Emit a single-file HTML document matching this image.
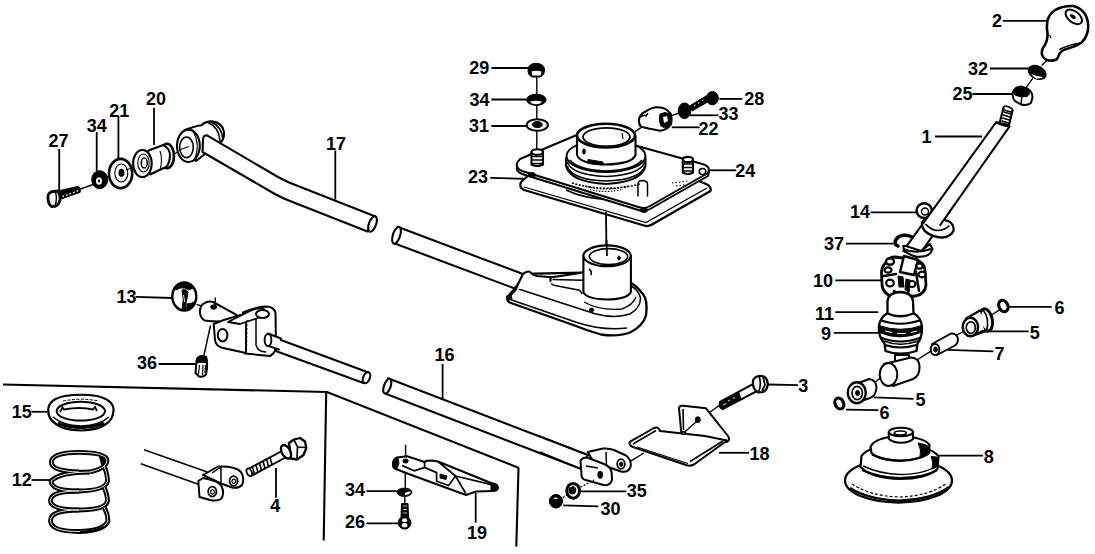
<!DOCTYPE html>
<html><head><meta charset="utf-8">
<style>
html,body{margin:0;padding:0;background:#fff;width:1095px;height:554px;overflow:hidden}
svg{display:block}
text{font-family:"Liberation Sans",sans-serif;font-weight:bold;font-size:18px;fill:#000;text-anchor:middle}
.l{stroke:#000;stroke-width:1.8;fill:none}
.o{stroke:#000;stroke-width:2.1;fill:#fff;stroke-linejoin:round}
.n{stroke:#000;stroke-width:2.1;fill:none;stroke-linejoin:round;stroke-linecap:round}
.t{stroke:#000;stroke-width:1.1;fill:none}
.k{fill:#000;stroke:#000;stroke-width:1}
</style></head><body>
<svg width="1095" height="554" viewBox="0 0 1095 554">
<!-- FRAME -->
<g id="frame">
<path class="l" style="stroke-width:2.1" d="M3,384.5 L327,392 L519,468"/>
<path class="l" style="stroke-width:2.1" d="M326.2,392 L323.7,540.5"/>
<path class="l" style="stroke-width:2.1" d="M518.5,468 L516.3,546.5"/>
</g>

<!-- LABELS -->
<g id="labels">
<text x="997" y="27">2</text>
<text x="978" y="74.5">32</text>
<text x="962.4" y="100">25</text>
<text x="926.5" y="142.5">1</text>
<text x="860" y="218.3">14</text>
<text x="834" y="249.6">37</text>
<text x="823" y="286.5">10</text>
<text x="824.6" y="320">11</text>
<text x="826" y="340">9</text>
<text x="1059.4" y="314.3">6</text>
<text x="1034.8" y="338.9">5</text>
<text x="999.5" y="360.4">7</text>
<text x="920.6" y="405.8">5</text>
<text x="884.4" y="418.7">6</text>
<text x="988.8" y="462.7">8</text>
<text x="803.2" y="392.3">3</text>
<text x="759.4" y="459.9">18</text>
<text x="636.8" y="497.3">35</text>
<text x="610.6" y="514.9">30</text>
<text x="477" y="538.5">19</text>
<text x="354.9" y="496.2">34</text>
<text x="354.9" y="528">26</text>
<text x="275.3" y="511.5">4</text>
<text x="21.7" y="486.1">12</text>
<text x="21.7" y="417.8">15</text>
<text x="444.4" y="361.3">16</text>
<text x="147" y="369.3">36</text>
<text x="126.6" y="302.8">13</text>
<text x="336" y="150">17</text>
<text x="478.1" y="182.9">23</text>
<text x="745.3" y="176.9">24</text>
<text x="708.5" y="135.2">22</text>
<text x="728.4" y="119.8">33</text>
<text x="754.2" y="105.3">28</text>
<text x="479.2" y="74.4">29</text>
<text x="479.5" y="105.8">34</text>
<text x="479" y="132">31</text>
<text x="58.6" y="146.9">27</text>
<text x="96.7" y="131.8">34</text>
<text x="119.3" y="116.5">21</text>
<text x="156" y="105">20</text>
</g>

<!-- LEADERS -->
<g id="leaders" class="l">
<path d="M1002.8,20.8 H1047.6"/>
<path d="M990,68.5 H1029"/>
<path d="M972.5,94 H1014"/>
<path d="M935,136.5 H982"/>
<path d="M870.6,212.3 H916.6"/>
<path d="M846,243.6 H893.6"/>
<path d="M835.3,280.4 H881.3"/>
<path d="M835.3,312.2 H878.3"/>
<path d="M833.8,332.9 H878.3"/>
<path d="M1008.5,306.8 H1051.7"/>
<path d="M981,331.3 H1028.7"/>
<path d="M947.3,349.8 L993.4,351.3"/>
<path d="M873.7,397.3 L913.6,398.9"/>
<path d="M846,409.6 L878.3,410.2"/>
<path d="M939.2,455.7 H982.9"/>
<path d="M768,384.5 L798,385.2"/>
<path d="M719,452.8 H749"/>
<path d="M580.8,491.3 H626.3"/>
<path d="M563.3,505.4 L598.3,506.4"/>
<path d="M475.7,493 V522.7"/>
<path d="M366.5,491.2 H399.7"/>
<path d="M366.5,523.4 H399.7"/>
<path d="M276,467.9 V497.7"/>
<path d="M31.5,480 H49"/>
<path d="M31.5,411.8 H49"/>
<path d="M442.6,364 V399.4"/>
<path d="M158.6,364 H195.6"/>
<path d="M135.6,296.8 L172.6,298"/>
<path d="M335.3,150.5 V199.6"/>
<path d="M490.3,177.9 L530.8,179"/>
<path d="M707.5,170.3 H736.3"/>
<path d="M671.8,127.3 H699.6"/>
<path d="M689.6,115.3 H718.4"/>
<path d="M719.4,98.9 H742.3"/>
<path d="M491.4,68 H528"/>
<path d="M491.4,99.5 H526"/>
<path d="M491.4,126 H526"/>
<path d="M59.2,149 V191.4"/>
<path d="M96.7,132 V171"/>
<path d="M118.4,116 V158"/>
<path d="M154,107.7 V145"/>
</g>

<!-- PARTS -->
<g id="left">
<!-- bolt 27 -->
<path class="t" style="stroke-width:1.6" d="M79.8,189.3 L93,184.5"/>
<path class="k" d="M58.5,190.8 L78.5,186.3 Q81,188.5 80.2,192.3 L59.5,199.5 Z"/>
<path d="M62.5,196.5 l1.5,-0.6 M66,195.3 l1.5,-0.6 M69.5,194 l1.5,-0.6 M73,192.8 l1.5,-0.6 M76.5,191.3 l1.5,-0.6" stroke="#fff" stroke-width="1.4"/>
<path class="o" style="stroke-width:2.8" d="M48,196 Q49,192 53,191.5 L58,191 Q60.5,195 60,200 Q59,205 55,206.3 L51.5,206.5 Q47.5,203.5 48,196 Z"/>
<path class="t" style="stroke-width:1.4" d="M55.5,192 Q57.5,199 55,206"/>
<!-- washer 34 -->
<ellipse class="k" cx="99.7" cy="179.7" rx="8" ry="9"/>
<ellipse cx="99" cy="181" rx="3" ry="3.8" fill="#fff"/>
<ellipse cx="99" cy="181" rx="1.2" ry="1.6" fill="#000"/>
<path class="t" d="M107,177 L110,176"/>
<!-- washer 21 -->
<ellipse class="o" style="stroke-width:2.6" cx="120.6" cy="173.5" rx="11.6" ry="14.6"/>
<ellipse class="t" cx="121.3" cy="173" rx="6.5" ry="9"/>
<ellipse class="k" cx="121.5" cy="172.8" rx="2.6" ry="3.8"/>
<path class="t" d="M126,170 L133,167.5"/>
<!-- bushing 20 -->
<ellipse class="o" style="stroke-width:2.6" cx="167" cy="156" rx="7" ry="12.3"/>
<path class="o" d="M148,150.8 L163.2,145.1 Q170,148 170,156 Q169.5,164 166,167 L150,174.5 Z"/>
<path class="t" d="M160,151 Q163,160 160,170"/>
<ellipse class="o" cx="142.4" cy="163.5" rx="9.3" ry="13.5"/>
<ellipse class="t" cx="143.5" cy="163" rx="5.7" ry="9"/>
<ellipse class="t" style="stroke-width:1.5" cx="144.2" cy="163" rx="3" ry="5"/>
<path class="t" d="M172.7,154.6 L186,148"/>
<!-- arm 17 eye -->
<path class="o" d="M185,130 Q195,126 201.4,125.2 Q205,121.5 212,121.4 Q223,123 224,132 Q224.5,140 220,142.5 L196,161 Z"/>
<path class="t" style="stroke-width:1.6" d="M208,122.5 Q219,127 220,141"/>
<path class="t" style="stroke-width:1.6" d="M211,122 Q222,126 223,140"/>
<path class="o" d="M203,140 Q203,135 207,135.4 L278,177 Q287,182 296,185.3 L375.5,216.5 L367.5,231.5 L290,201 Q282,198 274,193.5 L202.5,152 Z"/>
<ellipse class="o" cx="372.5" cy="224" rx="3.6" ry="8.2" transform="rotate(20 372.5 224)"/>
<ellipse class="o" cx="188.4" cy="145.8" rx="11.4" ry="16.2"/>
<path class="t" d="M193,131 Q201,145 194,161"/>
<ellipse class="t" style="stroke-width:1.6" cx="186.5" cy="147.3" rx="6.8" ry="10.3"/>
<path class="t" d="M179,150 L189,146.5"/>
</g>

<g id="plate">
<!-- stack 29/34/31 line -->
<path class="t" style="stroke-width:1.4" d="M536.8,76 V150"/>
<!-- nut 29 -->
<path class="k" d="M528,69 Q529,63.5 536,63.3 Q543.5,63.5 544.5,69 Q545,75 540,77 L532,77 Q527.5,75 528,69 Z"/>
<path d="M531.5,71.5 Q536,70 541.5,71.5 L540.5,75.5 L532.5,75.5 Z" fill="#fff"/>
<!-- washer 34 -->
<ellipse class="k" cx="536.3" cy="99.8" rx="9.8" ry="5.6"/>
<path d="M530,101.5 Q536,100 542,101.5 Q541,104 536,104.2 Q531,104 530,101.5 Z" fill="#fff"/>
<!-- washer 31 -->
<ellipse class="o" style="stroke-width:2" cx="537.3" cy="125" rx="10.6" ry="5.8"/>
<ellipse class="k" cx="537.3" cy="124.6" rx="5" ry="3"/>
<!-- lower plate 23 -->
<path class="o" style="stroke-width:2.3" d="M585,137 L705,183.5 Q712,186.5 710.5,191 L652,224.5 Q648,227 644,225.5 L524,190 Q518.5,187.5 521,182 L530,174 Z"/>
<path class="t" style="stroke-width:1.3" d="M524,187 L646,222.5 L707,188"/>
<path class="t" style="stroke-width:1.8" d="M566,190 Q585,199 610,199.5 Q625,199 632,196"/>
<!-- upper plate 24 thickness -->
<path class="o" style="stroke-width:2" d="M520,162 L585,134 L704,167.5 Q711,170 708,176 L650,209 Q645,212 640,210.5 L522,174 Q515.5,171 517,166 Z"/>
<path class="o" style="stroke-width:2" d="M520,159 L585,131.5 L704,164.5 Q711,167 708,173 L650,206 Q645,209 640,207.5 L522,171 Q515.5,168 517,163 Z"/>
<ellipse class="k" cx="532" cy="175" rx="3.5" ry="2.5"/>
<ellipse class="k" cx="644" cy="210" rx="3.5" ry="2.5"/>
<!-- housing flange -->
<path class="t" style="stroke-dasharray:2 1.5;stroke-width:1.6" d="M572,183 Q605,193 640,184"/>
<path class="o" style="stroke-width:2" d="M566,158 L566,166 Q570,182 606,184 Q642,182 645.5,166 L645.5,158 Z"/>
<path class="t" style="stroke-width:1.7" d="M567,166 Q572,180 606,181 Q640,180 645,166"/>
<path class="t" style="stroke-width:1.7" d="M567,162 Q572,175 606,176.5 Q640,175 645,162"/>
<ellipse class="o" style="stroke-width:2" cx="606" cy="156" rx="39.5" ry="16"/>
<path class="t" style="stroke-width:1.5" d="M570,160 Q578,170 606,171 Q634,170 642,160"/>
<!-- housing cylinder -->
<path class="o" d="M577,136 L577,155 Q580,164 606,164.5 Q632,164 635.5,155 L635.5,136 Z"/>
<path class="k" d="M588,159.5 L603,162 L603,165 L588,163.5 Z"/>
<ellipse cx="584" cy="151.5" rx="1.8" ry="3" fill="#000"/>
<ellipse class="o" style="stroke-width:2.6" cx="606" cy="135.6" rx="29" ry="11.8"/>
<ellipse class="t" style="stroke-width:1.8" cx="606.5" cy="137" rx="23.5" ry="9.2"/>
<path class="t" d="M622,133 L623,139"/>
<path class="t" style="stroke-width:1.1;stroke-dasharray:1.5 1.5" d="M585,186 Q606,192 628,186 M590,189.5 Q606,193.5 622,189.5"/>
<path class="t" style="stroke-width:1.1;stroke-dasharray:1.5 2" d="M672,183 L688,181 M676,186 L686,184.5"/>
<ellipse class="o" style="stroke-width:1.6" cx="702.5" cy="171.5" rx="3.3" ry="3"/>
<!-- tab -->
<path class="n" style="stroke-width:1.5" d="M638,196 V184 Q638,180.5 643,180.5 Q647.5,181 647.5,184 V196"/>
<!-- studs -->
<path class="o" d="M531.5,152 V164.5 Q537,167.5 543,164.5 V152 Z"/>
<ellipse class="o" cx="537.3" cy="152" rx="5.7" ry="2.8"/>
<path class="n" style="stroke-width:1.6" d="M532,156.5 h10 M532,160 h10 M532,163.5 h10"/>
<path class="o" d="M682.8,159.5 V172.5 Q688,175.5 693,172.5 V159.5 Z"/>
<ellipse class="o" cx="687.9" cy="159.5" rx="5" ry="2.6"/>
<path class="n" style="stroke-width:1.7" d="M683.5,164 h9 M683.5,167.5 h9 M683.5,171 h9"/>
<!-- leader down -->
<path class="l" d="M606,212 L606.5,255"/>
<!-- clip 22 -->
<path class="t" style="stroke-width:1.4" d="M641,127.7 L635,131.7"/>
<path class="o" d="M638.9,120 Q640,114 645,111.8 Q652,107 658,107.3 Q666,107.5 670.7,113.8 Q672.5,120 670.5,125 Q667,130 660,130.7 L649.8,128.7 L641,126.7 Q638.5,124 638.9,120 Z"/>
<path class="k" d="M660,114 Q665,111 670,114 Q672,121 669,127 Q664,129 661,126 Q658,120 660,114 Z"/>
<path d="M663,117 L667,116 L668,121 L664,123 Z" fill="#fff"/>
<path class="t" style="stroke-width:1.5" d="M641,117 Q644,114 646,116 L648,113"/>
<path class="t" style="stroke-width:1.4" d="M671,115.8 L679,113"/>
<!-- washer 33 -->
<ellipse class="k" cx="684.5" cy="110.8" rx="6.3" ry="7.8"/>
<!-- bolt 28 -->
<path class="k" d="M689.5,106 L706,96 L708.5,101.5 L692,111 Z"/>
<path d="M694,106 l1.5,-1 M698,103.5 l1.5,-1 M702,101 l1.5,-1" stroke="#fff" stroke-width="1"/>
<ellipse class="k" cx="712.3" cy="98.2" rx="6" ry="6.6"/>
</g>

<g id="base">
<!-- rod 17 second segment -->
<path class="o" d="M397.5,226.8 L523.5,274.3 L516,289 L395.5,243.8 Z"/>
<ellipse class="o" cx="396.5" cy="235.3" rx="3.6" ry="8.8" transform="rotate(18 396.5 235.3)"/>
<!-- base plate -->
<path class="o" style="stroke-width:2.3" d="M507.3,297 Q506.5,301.5 511,303 L576,326 Q590,331.5 601,334.5 Q618,337 630,332.5 Q643,326 646,315.5 Q647.5,304 645,297.5 Q641,290 632,283.5 L583,272.6 L523.2,273.8 Q519,285 507.3,297 Z"/>
<path class="t" style="stroke-width:1.6" d="M511,299.8 L577,322.5 Q603,331 627,328"/>
<path class="t" style="stroke-width:1.5" d="M518.5,289 L595,313.7 Q615,319 630,314 Q640.5,308 640.5,298 Q639,291 632,286.5"/>
<path class="t" style="stroke-width:1.4" d="M584,302 Q600,311 622,309 Q633,305 636,297"/>
<!-- socket -->
<path fill="#fff" d="M523.2,273.8 Q528,270.5 530.2,272 Q532,275 537,276 L551.3,277.3 L560.7,276.1 L583,272.6 L583,296 Q570,292 552,284 L518.5,289 L515.5,290.2 Q518,282 523.2,273.8 Z"/>
<path class="n" style="stroke-width:2" d="M523.2,273.8 Q528,270.5 530.2,272 Q532,275 537,276 L551.3,277.3 L560.7,276.1 L583,272.6"/>
<path class="n" style="stroke-width:2.2" d="M550.5,277.5 L550.5,281"/>
<path class="t" style="stroke-width:1.9" d="M523.2,273.8 Q519,282 515.5,290.2 L510.3,295.5"/>
<path class="t" style="stroke-width:1.5" d="M552.5,279.6 L583,280.2 M551.3,283.2 Q552,285 555,285.5 L579.5,290.2 Q581.5,292 582,294"/>
<ellipse class="k" cx="591.5" cy="310" rx="2.2" ry="1.8"/>
<path class="k" d="M506.5,296 L511,294.5 L512,299 L508,300.5 Z"/>
<!-- base cylinder -->
<path class="o" d="M583.4,256 L583.4,292 Q586,299 607,299.5 Q628,299 630.9,292 L630.9,256 Z"/>
<ellipse class="o" style="stroke-width:2.2" cx="607.1" cy="255.8" rx="23.7" ry="10.4"/>
<ellipse class="t" style="stroke-width:1.6" cx="608.5" cy="256.6" rx="19.2" ry="8"/>
<path class="t" style="stroke-width:1.6" d="M589,269 Q592,271 591,275"/>
<ellipse class="k" cx="619" cy="258" rx="1.3" ry="2"/>
<path class="l" d="M606.5,240 L607,256"/>
</g>

<g id="lever">
<!-- dash line knob to nut -->
<path class="t" style="stroke-width:1.4" d="M1047.6,59.5 L1041.6,65.5 M1032.7,78.4 L1025.7,88.3"/>
<!-- knob 2 -->
<path class="o" style="stroke-width:2.6" d="M1047.6,19.8 Q1050,13 1056,9.5 Q1064,5.5 1073.4,6 Q1081,8 1085,14 Q1089,21 1088,30 Q1086.5,38 1081.3,42.7 Q1076,46.5 1068,48.5 Q1062,50 1059.5,53.6 Q1058,58 1056.5,59.5 Q1052,61.5 1047,60 Q1043,58.5 1041.8,54 Q1041.5,49 1044.6,45.7 Q1047.5,41 1047.6,35 Q1046,27 1047.6,19.8 Z"/>
<ellipse class="o" style="stroke-width:2" cx="1073.8" cy="16.9" rx="9.5" ry="5.5" transform="rotate(38 1073.8 16.9)"/>
<path class="k" d="M1070,15 Q1073,14 1075,16.5 Q1076,19 1074,18.8 Q1071,18 1070,15 Z"/>
<path class="t" style="stroke-width:1.6" d="M1059.5,49.5 Q1066,45.5 1081,43"/>
<path class="t" d="M1049.5,35 L1051,38"/>
<!-- washer 32 -->
<ellipse class="k" cx="1037.2" cy="72.4" rx="9.5" ry="6.4" transform="rotate(25 1037.2 72.4)"/>
<path d="M1031,74 Q1037,76.5 1043,77 Q1040,79.5 1035,78 Z" fill="#fff"/>
<!-- nut 25 -->
<path class="o" style="stroke-width:2" d="M1013,92 Q1015,87 1021,86.5 L1028,89 Q1032.5,92 1032.5,97 L1031,103 Q1027,106 1021,104.5 L1015,101 Q1011.5,97 1013,92 Z"/>
<path class="k" d="M1013.5,92 Q1015.5,87 1022,87.5 L1028.5,90.5 Q1031,94 1027,96.5 Q1021,97.5 1016,95.5 Q1013,94.5 1013.5,92 Z"/>
<path class="t" style="stroke-width:1.5" d="M1022,95 L1021,104"/>
<!-- ring 14 -->
<ellipse class="o" style="stroke-width:2.4" cx="924.2" cy="210.6" rx="7.6" ry="7.4"/>
<ellipse class="t" style="stroke-width:1.5" cx="925" cy="211.5" rx="3.5" ry="3.5"/>
<!-- shaft 1 -->
<path class="o" d="M996.3,122 L1009.5,126.5 L917.4,257.5 L903.2,250.9 Z"/>
<path class="o" d="M1003.5,108 L1012.5,110.5 L1009,125 L999.5,123 Z"/>
<path class="n" style="stroke-width:1.5" d="M1004,112 l7.5,2.2 M1003.3,115 l7.5,2.2 M1002.6,118 l7.5,2.2 M1001.9,121 l7.5,2.2"/>
<ellipse class="o" style="stroke-width:1.7" cx="1008" cy="109" rx="4.8" ry="2.2" transform="rotate(20 1008 109)"/>
<path class="n" style="stroke-width:1.6" d="M996.5,122.5 Q1002,126 1009.5,126.5"/>
<!-- collar -->
<path class="o" style="stroke-width:2.3" d="M922,223 Q923,218 932.5,218.7 Q943,218.5 950,222 Q954.5,226 953.4,231 Q951,236.5 942,237.6 Q932,237 926,232 Q921.5,228 922,223 Z"/>
<path class="t" style="stroke-width:1.7" d="M925,223.4 Q931,230.5 938.2,230.5 Q945,230 949.5,225.5"/>
<path d="M935,207 L950.1,211 L940.2,225.5 L923.4,223.5 Z" fill="#fff"/>
<path class="n" style="stroke-width:2.1" d="M935,207 L923.4,223 M950.1,211 L940.2,225"/>
<!-- clip 37 -->
<path class="n" style="stroke-width:3.5" d="M912,237 Q905,234 899,236.5 Q894,240 895.5,244.5 L898,246"/>
<!-- ring below -->
<path class="o" style="stroke-width:2" d="M903.2,246 Q903,253 916,256.5 Q930,258 932.5,249 L930,244 L921,251 L906,246 Z"/>
<path class="t" style="stroke-width:2.2" d="M903.5,249 Q915,254.5 931,249"/>
<!-- yoke 10 -->
<path class="o" style="stroke-width:2.8" d="M887,262 Q889,257 895,257 L903,258 L916,260 Q924,262 925,270 L926,285 Q925,294 916,296 L893,297 Q883,294 882,285 L881.5,272 Q882,265 887,262 Z"/>
<path class="o" style="stroke-width:2.4" d="M904,256 L918,260 L914,275 L900,272 Z"/>
<ellipse class="o" style="stroke-width:2.4" cx="890" cy="261.5" rx="4" ry="3.2"/>
<ellipse class="o" style="stroke-width:2.2" cx="888" cy="270" rx="3.5" ry="2.6"/>
<ellipse class="o" style="stroke-width:2.2" cx="890" cy="283" rx="3.8" ry="3.4"/>
<ellipse class="o" style="stroke-width:2.2" cx="919.5" cy="266" rx="3.2" ry="2.6"/>
<ellipse class="o" style="stroke-width:2.2" cx="922" cy="274.5" rx="3.6" ry="2.8"/>
<ellipse class="o" style="stroke-width:2.2" cx="912" cy="284" rx="3.5" ry="3"/>
<path class="k" d="M898,276 L903,277 L904,287 L899,287 Z M906,279 L910,280 L909,291 L905,290 Z"/>
<path class="n" style="stroke-width:2.4" d="M884,276 L896,274 M916,272 L919,291 M894,291 L902,296 M909,290 L906,297"/>
<!-- ball 11 / boot 9 -->
<path class="o" style="stroke-width:2.3" d="M887.5,313 Q879.5,318 878.8,327 Q878.5,337 884.5,343.5 L885.5,351 Q900,356.5 916.5,351 L917.5,343.5 Q922.5,337 922,327 Q921.5,318 913.5,313 Z"/>
<path class="o" style="stroke-width:2.3" d="M887.5,301 Q888.5,292.5 900,292 Q912,292.5 913,301 L913.5,313.5 Q900,319 887.5,313.5 Z"/>
<path class="t" style="stroke-width:2" d="M880,320 Q900,327.5 921,320"/>
<path class="k" d="M879,325.5 Q900,333 922,325.5 L922,332 Q900,341.5 879.5,332.5 Z"/>
<path d="M885,331 L892,332.5 M897,333.5 L906,333.5 M911,332.5 L917,331" stroke="#fff" stroke-width="1.2"/>
<path class="t" style="stroke-width:2" d="M880.5,337.5 Q900,345.5 921,337.5"/>
<path class="t" style="stroke-width:1.4" d="M884,341 Q900,347.5 918,341"/>
<path class="t" style="stroke-width:2" d="M885,345 Q900,350 916.5,345"/>
<!-- T housing -->
<path class="o" style="stroke-width:1.9" d="M895,355 L895,362 L909,362 L909,355 Z"/>
<path class="o" style="stroke-width:2" d="M884,364 L911,357.5 Q919,358 919.5,366 Q920,376 913,379 L893,386 Z"/>
<ellipse class="o" style="stroke-width:2" cx="888.5" cy="374.5" rx="8.8" ry="11.6"/>
<path class="t" style="stroke-width:1.4" d="M917,360 L930.4,351.3 M881.3,377.4 L875.2,382 M955,336 L965.7,330.4 M990,316 L999.5,309.8"/>
<!-- pin 7 -->
<path class="o" style="stroke-width:1.9" d="M932,344 L951,333.5 Q957,333 958,339 Q958,344 954,346 L937,355 Z"/>
<ellipse class="o" style="stroke-width:2" cx="935" cy="349.5" rx="4.3" ry="5.6"/>
<ellipse class="k" cx="935.5" cy="349.5" rx="1.8" ry="2.5"/>
<!-- bushing 5 upper -->
<path class="o" style="stroke-width:2.1" d="M966,320 L980,311 L986,331 L972,336 Z"/>
<ellipse class="o" style="stroke-width:3" cx="986" cy="320" rx="6.3" ry="11.3" transform="rotate(-12 986 320)"/>
<path class="t" style="stroke-width:1.6" d="M983,310 Q990,318 986.5,331"/>
<path class="o" style="stroke:none" d="M967,319 L980,310.5 L984,330 L972,335.5 Z"/>
<path class="n" style="stroke-width:2.1" d="M966,318.5 L980,310.5 M972,336 L983,331"/>
<ellipse class="o" style="stroke-width:2.4" cx="970.4" cy="327" rx="7.7" ry="9.2"/>
<ellipse class="t" style="stroke-width:1.7" cx="970.8" cy="327.6" rx="4.6" ry="5.8"/>
<!-- washer 6 upper -->
<ellipse class="o" style="stroke-width:3.2" cx="1003.4" cy="306" rx="4.4" ry="5.9" transform="rotate(-25 1003.4 306)"/>
<!-- bushing 5 lower -->
<path class="o" style="stroke-width:2" d="M856,384 L869,379 Q876,380 876.5,387 Q876,396 870,398 L858,402 Z"/>
<ellipse class="o" style="stroke-width:2.4" cx="856.8" cy="392.7" rx="9" ry="10.5"/>
<ellipse class="t" style="stroke-width:1.6" cx="857.2" cy="393" rx="5.2" ry="6.6"/>
<ellipse class="k" cx="857.5" cy="393" rx="2" ry="2.6"/>
<!-- washer 6 lower -->
<ellipse class="o" style="stroke-width:3.2" cx="839.3" cy="403.5" rx="4.2" ry="5.6" transform="rotate(-25 839.3 403.5)"/>
<!-- boot 8 -->
<ellipse class="o" style="stroke-width:2.3" cx="898.5" cy="480.5" rx="53.5" ry="22"/>
<path class="t" style="stroke-width:2.2" d="M850,488 Q868,499.5 899,500.5 Q932,499.5 949,487"/>
<path class="t" style="stroke-width:1.2;stroke-dasharray:3 2" d="M852,484 Q870,496 899,497 Q930,496 947,483"/>
<path class="o" style="stroke-width:2.2" d="M860.5,467 L861.5,456 Q868,446 899,445 Q930,446 938.5,456 L937.5,469 Q926,479 900,479 Q872,478.5 860.5,467 Z"/>
<path class="t" style="stroke-width:2.2" d="M862,470 Q878,477.5 900,478 Q925,477.5 937,470"/>
<path class="t" style="stroke-width:1.4" d="M863,466 Q880,474 900,474.5 Q925,474 936.5,466"/>
<path class="o" style="stroke-width:2.2" d="M870.5,447 Q874,437.5 900,436 Q925,437.5 929.5,445 L929,453 Q920,460 900,460.5 Q878,460 871.5,453 Z"/>
<path class="t" style="stroke-width:2" d="M872,454.5 Q885,460.5 900,461 Q918,460.5 928.5,454"/>
<path class="k" d="M918,443 Q926,444 929.5,447 L929,453 Q925,456 920,457 Q922,450 918,443 Z"/>
<path class="k" d="M931,456.5 Q937,456.5 938.5,458 L938,466 Q935,468 932,469 Q934,462 931,456.5 Z"/>
<path class="o" style="stroke-width:2.1" d="M888.7,432 L889,439 Q893,442.7 901,442.7 Q909,442.7 913,439 L913,432 Z"/>
<ellipse class="o" style="stroke-width:2.1" cx="900.9" cy="432" rx="12" ry="4.2"/>
<ellipse class="t" style="stroke-width:1.7" cx="900.3" cy="433" rx="6" ry="2"/>
</g>

<g id="joint">
<!-- rod 16 first segment -->
<path class="o" d="M262,333 L368.5,372.5 L363.5,383 L262,346 Z"/>
<ellipse class="o" cx="366.5" cy="377.7" rx="3.3" ry="5.8" transform="rotate(22 366.5 377.7)"/>
<!-- clip 13 -->
<path class="t" style="stroke-width:1.4" d="M196.7,304.4 L201.5,306"/>
<ellipse class="o" style="stroke-width:2.4" cx="184.3" cy="296.5" rx="12" ry="14"/>
<path class="k" d="M174,287.5 Q177,283.5 183,283 Q190,284 193,288 L189,290 Q185,287 180,288 L176,290 Z"/>
<path class="k" d="M182,290 Q185.5,288.5 188,292 L186.5,301 Q185,306 186.5,309.5 Q184,310.5 182,309.5 Q184.5,300 182,290 Z"/>
<path d="M183.5,295 L184.8,302" stroke="#fff" stroke-width="0.9"/>
<path class="k" d="M187,304 Q192,303.5 195,301.5 Q194.5,306.5 190.5,309.5 L187,310 Z"/>
<!-- rod-end block -->
<path class="t" style="stroke-width:1.4" d="M210.5,325.5 L203.8,356"/>
<path class="o" style="stroke-width:2" d="M200,311 Q200,305 205.5,302.7 Q209,300.5 213,302 L236.5,314.9 L232,322 Q220,322 204.5,320.5 Q199.5,317 200,311 Z"/>
<ellipse class="k" cx="213.7" cy="307" rx="3" ry="2.2"/>
<path class="t" style="stroke-width:1.4" d="M215.3,297.5 L215.3,305"/>
<!-- pin 36 -->
<path class="o" style="stroke-width:2" d="M196.5,361 Q197,356.5 202,356 L206,357 Q207.5,360 207,368 L206,374.5 Q203,377.5 199,376.5 L195.5,373 Z"/>
<path class="k" d="M196.8,361 Q197,356.5 202,356 L206,357 Q207.3,359 207,363 Q202,361.5 196.8,363 Z"/>
<path d="M199.5,365 L198.5,374 M203,365 L202.5,375 M205.5,365 L205,373" stroke="#000" stroke-width="1.2" fill="none"/>
<!-- U-joint -->
<path class="o" style="stroke-width:2" d="M243,312.5 Q255,307 266,306.5 Q274,306.5 275.5,313 L276,345 Q276,353 270,356 L245,353.5 Z"/>
<path class="o" style="stroke-width:2" d="M213.7,324 Q224,319.5 233,317.3 L246,313.5 L246,353 L223,348 Q215.5,346 215,340 Z"/>
<ellipse class="o" style="stroke-width:2" cx="222.6" cy="335.2" rx="4.8" ry="6.3"/>
<path class="o" style="stroke-width:1.8" d="M228,322 L250,311 Q258,307 264,309 L258,318 L240,324 Z"/>
<ellipse class="o" style="stroke-width:2" cx="262.5" cy="314" rx="6.5" ry="4"/>
<path class="t" style="stroke-width:1.5" d="M256,318 L256,345 Q258,352 266,352"/>
<path class="t" style="stroke-width:1.2;stroke-dasharray:2 2" d="M247,320 L246.5,350"/>
<path class="o" style="stroke:none" d="M268,334 L280,338 L279,349 L268,346 Z"/>
<path class="n" style="stroke-width:1.9" d="M268,333.5 L281,338.5 M268,345.8 L279,349.5"/>
<ellipse class="o" style="stroke-width:1.9" cx="268" cy="340" rx="3.4" ry="6"/>
</g>

<g id="box">
<!-- ring 15 -->
<path class="o" style="stroke-width:2.2" d="M48.2,410 Q48.5,399 65,396 Q81,393.5 97,396 Q113.5,400 113.6,410 Q113,420 106,424 Q98,430 81,430.5 Q64,430 56,424 Q48,419 48.2,410 Z"/>
<path class="t" style="stroke-width:3" d="M58,423 Q81,432 104,423"/>
<path class="t" style="stroke-width:1.5" d="M53,417 Q62,425 81,426 Q100,425 109,417"/>
<ellipse class="o" style="stroke-width:2" cx="80.8" cy="411.2" rx="24.2" ry="9.4"/>
<path class="t" style="stroke-width:1.8" d="M60,412 L62.5,407.5 L64,409.5 Q80,406.5 93,409.5 L95,407 L97,411"/>
<path class="t" style="stroke-width:1;stroke-dasharray:3 1.5" d="M63,401 Q81,397.5 99,401"/>
<!-- spring 12 -->
<g fill="none" stroke="#000" stroke-width="4.8">
<path d="M79,472 Q51,471 51.3,462 Q52,452.5 79,452.3 Q106,452.5 107,460 Q107.5,468 90,472"/>
<path d="M90,472 Q60,472 51,481 Q51,491 79,491 Q106,490.5 107.5,481 Q107.5,474 104,466 L101,455"/>
<path d="M79,491 Q51,491 50.3,500.5 Q51,510 79,510 Q106,510 107.5,501 Q107.5,495 104,487"/>
<path d="M79,510 Q50,510 50.5,521 Q51,531.5 79,531.5 Q104,531 108,521 Q108,514 104,507"/>
</g>
<g fill="none" stroke="#fff" stroke-width="0.9">
<path d="M79,472 Q51,471 51.3,462 Q52,452.5 79,452.3 Q106,452.5 107,460 Q107.5,468 90,472"/>
<path d="M90,472 Q60,472 51,481 Q51,491 79,491 Q106,490.5 107.5,481 Q107.5,474 104,466"/>
<path d="M79,491 Q51,491 50.3,500.5 Q51,510 79,510 Q106,510 107.5,501 Q107.5,495 104,487"/>
<path d="M79,510 Q50,510 50.5,521 Q51,531.5 79,531.5 Q104,531 108,521 Q108,514 104,507"/>
</g>
<path class="t" style="stroke-width:2.2" d="M80,532 Q96,531 104,527"/>
<!-- rod 4 end -->
<path class="t" style="stroke-width:1.6" d="M144,449.7 L207.3,471.9 M140.8,463.7 L198.3,484.2"/>
<!-- clevis -->
<path class="o" style="stroke-width:2" d="M203,475 L218,466.5 Q236,466 241,472 Q245,479 242,485 Q239,488.5 232,487.5 L221,483.5 Z"/>
<ellipse class="o" style="stroke-width:1.8" cx="233.6" cy="481" rx="4" ry="4.8"/>
<ellipse class="t" cx="233.8" cy="481.3" rx="1.8" ry="2.2"/>
<path class="t" style="stroke-width:1.5" d="M212,473 L221,467 L221,483"/>
<path class="o" style="stroke-width:2" d="M198.3,481 L203,478 Q218,480.5 221.5,486 Q225,494 221,499 Q217,501.5 210,500 L199.5,497 Z"/>
<ellipse class="o" style="stroke-width:1.8" cx="212.3" cy="491.6" rx="4.1" ry="5"/>
<ellipse class="t" cx="212.5" cy="491.9" rx="1.8" ry="2.2"/>
<!-- bolt 4 -->
<path class="o" style="stroke-width:1.9" d="M249,468.5 L282,451 L286.5,457 L251,476 Q247,474 249,468.5 Z"/>
<path class="n" style="stroke-width:1.6" d="M252.5,467 l2,7.5 M256,465 l2,7.5 M259.5,463 l2,7.5 M263,461 l2,7.5 M266.5,459 l2,7.5 M270,457.5 l2,7"/>
<ellipse class="o" style="stroke-width:1.8" cx="249.3" cy="472.3" rx="2.4" ry="4.1" transform="rotate(-25 249.3 472.3)"/>
<path class="o" style="stroke-width:2.3" d="M289,443 L294,439.5 L300,438 L305,441.5 L306.3,448 L303.5,455 L297,459.5 L291,458.5 Z"/>
<path class="t" style="stroke-width:1.7" d="M294,439.8 L297.5,447 L297,459 M297.5,447 L306,447.5"/>
<ellipse class="o" style="stroke-width:2.4" cx="286" cy="451.8" rx="4.2" ry="7.4" transform="rotate(-28 286 451.8)"/>
</g>

<g id="mid">
<!-- rod 16 second segment -->
<path class="o" d="M388,378.3 L588,455 L580,468.5 L386.4,393.9 Z"/>
<ellipse class="o" cx="387.3" cy="386.2" rx="3.3" ry="7.8" transform="rotate(20 387.3 386.2)"/>
<!-- bracket 19 -->
<path class="t" style="stroke-width:1.4" d="M405.6,444.7 V459 M405.3,472 V488 M404.8,497 V503"/>
<path class="o" style="stroke-width:2.1" d="M393,465 Q392.5,460 397,457.5 L407,456.3 L414,458.5 L424.5,462 L427,460.8 L432,460.5 L438,461.5 L491,483 Q498,484 498,488 Q497,491.5 492,491 L476,491.5 L466,495 L406,473 L396,469 Q393,468 393,465 Z"/>
<path class="t" style="stroke-width:1.7" d="M402,465.5 L414.3,470.9 L424.6,467.4 L436.6,472.6 L436.6,481.2 L448.6,485.5 L455.5,476 L465.8,493.5 M455.5,476 L491.5,484.6 M424.6,462.3 L424.6,467.4 M438,461.5 L455.5,476"/>
<ellipse class="k" cx="405.6" cy="461" rx="2.6" ry="2.1"/>
<path class="k" d="M440,474 L447,476 L446,479.5 L440,478 Z"/>
<path class="k" d="M393.3,461 Q394,458 398,458 L399,463 L397,468.5 Q393,467 393.3,461 Z"/>
<path class="k" d="M491,483.5 Q497.5,484 498,488.5 Q496.5,491.5 491,490.5 Z"/>
<!-- washer 34 -->
<ellipse class="k" cx="404.5" cy="492.3" rx="7.4" ry="4.2"/>
<path d="M405,493 Q409,490.5 411,492 Q409,495 405,495 Z" fill="#fff"/>
<!-- bolt 26 -->
<path class="k" d="M401.5,503.5 L408,503.5 L408.5,518 L401,518 Z"/>
<path d="M403,506 h4 M403,509.5 h4 M403,513 h4" stroke="#fff" stroke-width="0.7"/>
<circle class="k" cx="404.6" cy="522.7" r="6.4"/>
<ellipse cx="404.6" cy="520.3" rx="2.6" ry="2" fill="#fff"/>
<ellipse cx="404.6" cy="525.2" rx="2.8" ry="2.2" fill="#fff"/>
<!-- bracket 18 -->
<path class="t" style="stroke-width:1.4" d="M630.3,461.3 L643.8,453"/>
<path class="o" style="stroke-width:2" d="M679,408 Q679.5,405.5 683,405.8 L706,408.3 L728,436 Q730.5,440 727,442 L700,439 L681.2,432 Z"/>
<path class="t" style="stroke-width:1.6" d="M683,409 L683.5,430"/>
<ellipse class="k" cx="697.8" cy="419.7" rx="2.5" ry="3"/>
<path class="t" style="stroke-width:1.3" d="M683.3,433.2 L697,421"/>
<path class="o" style="stroke-width:2" d="M629.7,441.8 L654,428 Q657.5,426.5 659,429 L660,431 L705,436 L727,440.5 L694,464.5 Q690,466.5 686,465 L633,447 Q628.5,445 629.7,441.8 Z"/>
<path class="t" style="stroke-width:1.6" d="M633,444 L656,430.5 M690,461.5 L723,441"/>
<path class="t" style="stroke-width:1.3" d="M637,447 L688,463.5"/>
<ellipse class="o" style="stroke-width:1.6" cx="683.5" cy="433" rx="1.8" ry="1.2"/>
<!-- rod 16 clevis -->
<path class="t" style="stroke-width:1.6" d="M540,436.3 L587.8,455 M540,452 L579.5,468.5"/>
<path class="o" style="stroke-width:2" d="M587.8,452 L603,448.5 Q609,448 614,450 L626,455.5 Q632,460 630.5,467 Q628,473 621,471.5 L611,468 L594,463 Z"/>
<ellipse class="o" style="stroke-width:1.8" cx="621" cy="464" rx="3.8" ry="4.8"/>
<ellipse class="k" cx="621.2" cy="464.2" rx="1.6" ry="2.2"/>
<path class="t" style="stroke-width:1.5" d="M606,452 L606.5,467"/>
<path class="o" style="stroke-width:2" d="M580.5,461 Q582,457.5 587,457.5 L604,464 Q611,467 611.7,472.7 L612,480 Q610.5,485.5 604.4,485.2 L584,479.5 Q581.5,478 581.5,475 Z"/>
<ellipse class="k" cx="600.2" cy="474.8" rx="2.4" ry="3.6"/>
<path class="t" style="stroke-width:1.3" d="M586,466 L598,468"/>
<!-- washer 35 / nut 30 -->
<path class="t" style="stroke-width:1.3;stroke-dasharray:2 1.5" d="M580.5,487.2 L594,480 M562.8,497.6 L567,495"/>
<ellipse class="o" style="stroke-width:3" cx="573.2" cy="490.8" rx="6.4" ry="7.4"/>
<ellipse class="k" cx="572.4" cy="490.3" rx="3.4" ry="3.8"/>
<path d="M570,487 l2,-1" stroke="#fff" stroke-width="1"/>
<ellipse class="k" cx="556" cy="501.2" rx="6.6" ry="6.8"/>
<path d="M553,499 l3,-2 l2,2 z" fill="#fff"/>
<!-- bolt 3 -->
<path class="t" style="stroke-width:1.4" d="M710,412 L720,405"/>
<path class="o" style="stroke-width:2" d="M720,402 L753.3,383.9 L756.9,391.2 L722.6,409.2 Q718.5,407 720,402 Z"/>
<path class="k" d="M720.5,401.5 L738.5,392 L741,399 L723,408.5 Q719.5,406.5 720.5,401.5 Z"/>
<path d="M723,405 l3,-1.5 M728,401 l2,-1 M733,398.5 l2,-1" stroke="#fff" stroke-width="0.9"/>
<path class="o" style="stroke-width:2.2" d="M753,380.5 Q755,376 760,375.8 L764,376.5 Q768,379.5 767.7,385 Q767,390 763,392 L758,392.3 Q754,390 753,385 Z"/>
<path class="t" style="stroke-width:1.7" d="M759,376.5 Q762,384 758.5,392 M763,377 L765,385 L762,391"/>
</g>

</svg>
</body></html>
